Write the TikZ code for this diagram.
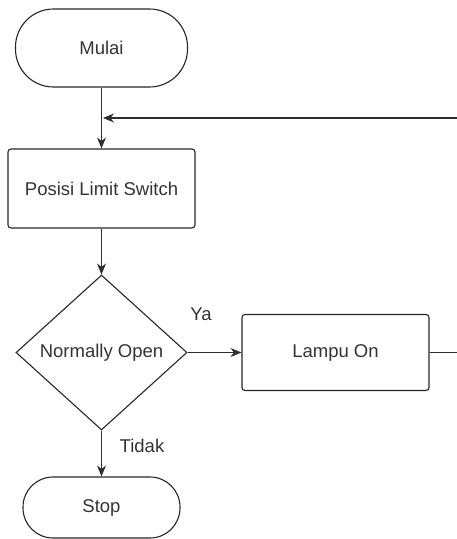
\documentclass[tikz,border=0pt]{standalone}
\usepackage{fontspec}
\setmainfont{Liberation Sans}
\usetikzlibrary{arrows.meta,shapes.geometric}
\tikzset{
	flowline/.style={line width=1.1pt, color=black!82},
	flowarrow/.style={flowline, -{Stealth[length=11pt,width=9pt]}},
	terminal/.style={draw=black!85, line width=1.1pt, rectangle},
	process/.style={draw=black!85, line width=1.1pt, rectangle, rounded corners=3pt},
	decision/.style={draw=black!85, line width=1.1pt, diamond, inner sep=0pt, minimum width=171pt, minimum height=155pt},
}

\begin{document}
\begin{tikzpicture}[x=1pt, y=-1pt, font=\fontsize{18.5}{22}\selectfont, text=black!80]
			%%%%% START %%%%%
			\useasboundingbox (0, 0) rectangle (457, 539);
			
			\node[terminal, minimum width=172pt, minimum height=78pt, rounded corners=38pt] (mulai) at (101.5, 48) {Mulai};
			\node[process, minimum width=187pt, minimum height=79pt] (posisi) at (101.5, 188.5) {Posisi Limit Switch};
			
			\node[decision] (normopen) at (101.5, 352.5) {};
			\node (normopentext) at (normopen) {Normally Open};
			
			\node[process, minimum width=187pt, minimum height=76pt] (lampu) at (335.5, 352.5) {Lampu On};
			\node[terminal, minimum width=157pt, minimum height=61pt, rounded corners=30pt] (stop) at (101.5, 507.5) {Stop};
			
			\node (ya) at (201, 314) {Ya};
			\node (tidak) at (142, 446) {Tidak};
			
			% loop coming back from the right
			\coordinate (loopin) at (457, 118);
			\coordinate (join) at (103, 118);
			\coordinate (lampuout) at (457, 352.5);
			
			\draw[flowarrow] (mulai) -- (posisi);
			\draw[flowarrow] (loopin) -- (join);
			\draw[flowarrow] (posisi) -- (normopen);
			\draw[flowarrow] (normopen) -- (lampu);
			\draw[flowline] (lampu) -- (lampuout);
			\draw[flowarrow] (normopen) -- (stop);
			
			%%%%% END %%%%%
		\end{tikzpicture}
\end{document}
